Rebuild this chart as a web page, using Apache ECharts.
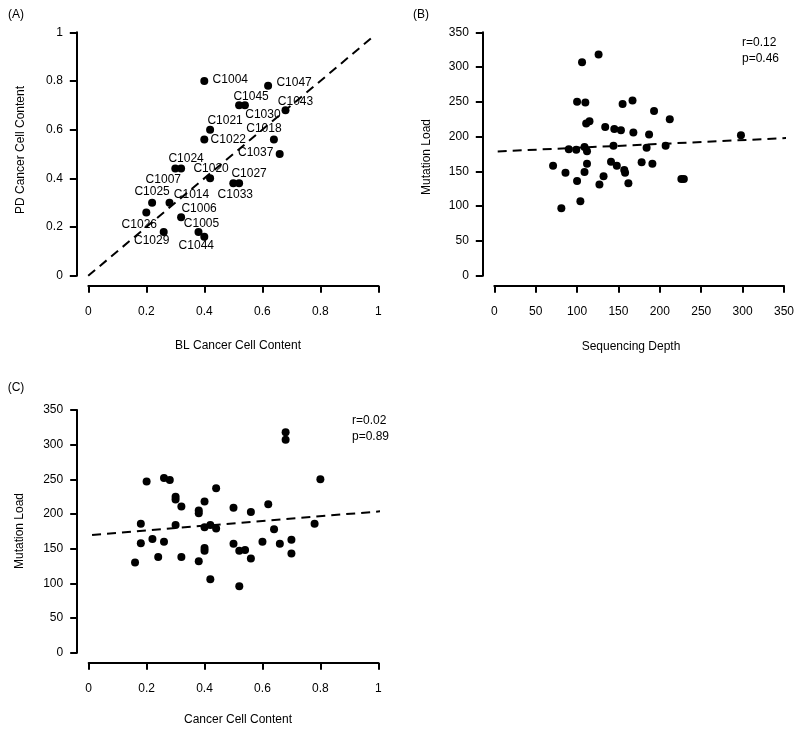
<!DOCTYPE html>
<html><head><meta charset="utf-8">
<script src="https://cdn.jsdelivr.net/npm/echarts@6/dist/echarts.min.js"></script>
<style>html,body{margin:0;padding:0;background:#fff}#c{width:800px;height:734px}</style>
</head><body><div id="c"></div>
<script>
// ---------- Panel A data ----------
const sampleIds = ['C1004','C1047','C1045','C1030','C1043','C1021','C1022','C1018','C1037','C1007','C1024','C1020','C1033','C1027','C1025','C1014','C1026','C1006','C1029','C1005','C1044'];
const blContent = [0.40,0.62,0.52,0.54,0.68,0.42,0.40,0.64,0.66,0.30,0.32,0.42,0.50,0.52,0.22,0.28,0.20,0.32,0.26,0.38,0.40];
const pdContent = [0.80,0.78,0.70,0.70,0.68,0.60,0.56,0.56,0.50,0.44,0.44,0.40,0.38,0.38,0.30,0.30,0.26,0.24,0.18,0.18,0.16];
const identityLineX = [-0.04, 0.99];
const identityLineY = [-0.04, 0.99];

// ---------- Panel B data ----------
const seqDepth = [126,106,100,110,155,167,193,212,111,115,134,145,153,168,187,298,90,99,109,112,144,184,207,71,86,100,109,112,81,104,127,132,141,148,157,158,162,178,191,226,229];
const mutLoadB = [318,307,250,249,247,252,237,225,219,222,214,211,209,206,203,202,182,181,185,179,187,184,187,158,148,136,149,161,97,107,131,143,164,158,152,148,133,163,161,139,139];
const fitBX = [-14, 364];
const fitBY = [177.7, 198.5];
const statsB = ['r=0.12', 'p=0.46'];

// ---------- Panel C data ----------
const cellContent = [0.68,0.68,0.20,0.26,0.28,0.80,0.44,0.30,0.30,0.32,0.40,0.38,0.38,0.50,0.56,0.62,0.18,0.30,0.40,0.42,0.44,0.64,0.78,0.18,0.22,0.26,0.40,0.40,0.50,0.52,0.54,0.60,0.66,0.70,0.70,0.16,0.24,0.32,0.38,0.56,0.42,0.52];
const mutLoadC = [318,307,247,252,249,250,237,225,221,211,218,205,201,209,203,214,186,184,181,184,179,178,186,158,164,160,151,147,157,147,148,160,157,163,143,130,138,138,132,136,106,96];
const fitCX = [-0.04, 1.04];
const fitCY = [168.1, 205.0];
const statsC = ['r=0.02', 'p=0.89'];

// ---------- Tick settings ----------
const ticksUnit = {min: 0, max: 1, interval: 0.2};
const ticksDepth = {min: 0, max: 350, interval: 50};
const ticksLoad = {min: 0, max: 350, interval: 50};

// label offsets (layout only) for panel A: [dx, dy] from point centre
const labelOffsetA = [[26,-1],[26,-3],[12,-9],[18,9],[10,-9],[15,-9],[24,0],[-10,-11],[-24,-1],[-12,11],[5,-10],[1,-10],[2,11],[10,-10],[0,-11],[22,-8],[-7,12],[18,-9],[-12,9],[3,-8],[-8,9]];

const FONT = '"Liberation Sans", Arial, sans-serif';
const chart = echarts.init(document.getElementById('c'), null, {renderer: 'canvas'});

function xAx(gi, t) {
  return {
    type: 'value', gridIndex: gi, min: t.min, max: t.max, interval: t.interval,
    offset: 10, position: 'bottom',
    axisLine: {show: true, onZero: false, lineStyle: {color: '#000', width: 2}},
    axisTick: {show: true, inside: false, length: 7, lineStyle: {color: '#000', width: 2}},
    axisLabel: {show: true, margin: 20, color: '#000', fontSize: 12, fontFamily: FONT},
    splitLine: {show: false}
  };
}
function yAx(gi, t) {
  return {
    type: 'value', gridIndex: gi, min: t.min, max: t.max, interval: t.interval,
    offset: 11.5, position: 'left',
    axisLine: {show: true, onZero: false, lineStyle: {color: '#000', width: 2}},
    axisTick: {show: true, inside: false, length: 7, lineStyle: {color: '#000', width: 2}},
    axisLabel: {show: true, margin: 14, color: '#000', fontSize: 12, fontFamily: FONT},
    splitLine: {show: false}
  };
}
const zip = (a, b) => a.map((v, i) => [v, b[i]]);
const dotStyle = {color: '#000', opacity: 1};
const dashStyle = {color: '#000', width: 2, type: [9, 6], opacity: 1};

function txt(x, y, s, opts) {
  return {type: 'text', x: x, y: y, style: Object.assign({text: s, fill: '#000', font: '12px ' + FONT, textAlign: 'center', textVerticalAlign: 'middle'}, opts || {})};
}

chart.setOption({
  animation: false,
  backgroundColor: '#fff',
  grid: [
    {left: 88.3, top: 32.3, width: 290, height: 243.4},
    {left: 494.3, top: 32.3, width: 289.7, height: 243.4},
    {left: 88.7, top: 410, width: 289.6, height: 242.7}
  ],
  xAxis: [xAx(0, ticksUnit), xAx(1, ticksDepth), xAx(2, ticksUnit)],
  yAxis: [yAx(0, ticksUnit), yAx(1, ticksLoad), yAx(2, ticksLoad)],
  series: [
    {
      type: 'scatter', xAxisIndex: 0, yAxisIndex: 0, symbolSize: 8, itemStyle: dotStyle,
      emphasis: {disabled: true},
      data: blContent.map((v, i) => ({
        value: [v, pdContent[i]], name: sampleIds[i],
        label: {show: true, position: 'inside', offset: labelOffsetA[i], formatter: sampleIds[i],
                color: '#000', fontSize: 12, fontFamily: FONT, opacity: 1}
      }))
    },
    {type: 'line', xAxisIndex: 0, yAxisIndex: 0, clip: false, symbol: 'none', lineStyle: dashStyle, data: zip(identityLineX, identityLineY)},
    {type: 'scatter', xAxisIndex: 1, yAxisIndex: 1, symbolSize: 8, itemStyle: dotStyle, emphasis: {disabled: true}, data: zip(seqDepth, mutLoadB)},
    {type: 'line', xAxisIndex: 1, yAxisIndex: 1, clip: false, symbol: 'none', lineStyle: dashStyle, data: zip(fitBX, fitBY)},
    {type: 'scatter', xAxisIndex: 2, yAxisIndex: 2, symbolSize: 8, itemStyle: dotStyle, emphasis: {disabled: true}, data: zip(cellContent, mutLoadC)},
    {type: 'line', xAxisIndex: 2, yAxisIndex: 2, clip: false, symbol: 'none', lineStyle: dashStyle, data: zip(fitCX, fitCY)}
  ],
  graphic: [
    txt(16, 15, '(A)'),
    txt(421, 15, '(B)'),
    txt(16, 388, '(C)'),
    txt(238, 346, 'BL Cancer Cell Content'),
    txt(631, 347, 'Sequencing Depth'),
    txt(238, 720, 'Cancer Cell Content'),
    Object.assign(txt(21, 150, 'PD Cancer Cell Content'), {rotation: Math.PI / 2}),
    Object.assign(txt(427, 157, 'Mutation Load'), {rotation: Math.PI / 2}),
    Object.assign(txt(20, 531, 'Mutation Load'), {rotation: Math.PI / 2}),
    txt(742, 43, statsB[0], {textAlign: 'left'}),
    txt(742, 59, statsB[1], {textAlign: 'left'}),
    txt(352, 421, statsC[0], {textAlign: 'left'}),
    txt(352, 437, statsC[1], {textAlign: 'left'})
  ]
});
</script></body></html>
